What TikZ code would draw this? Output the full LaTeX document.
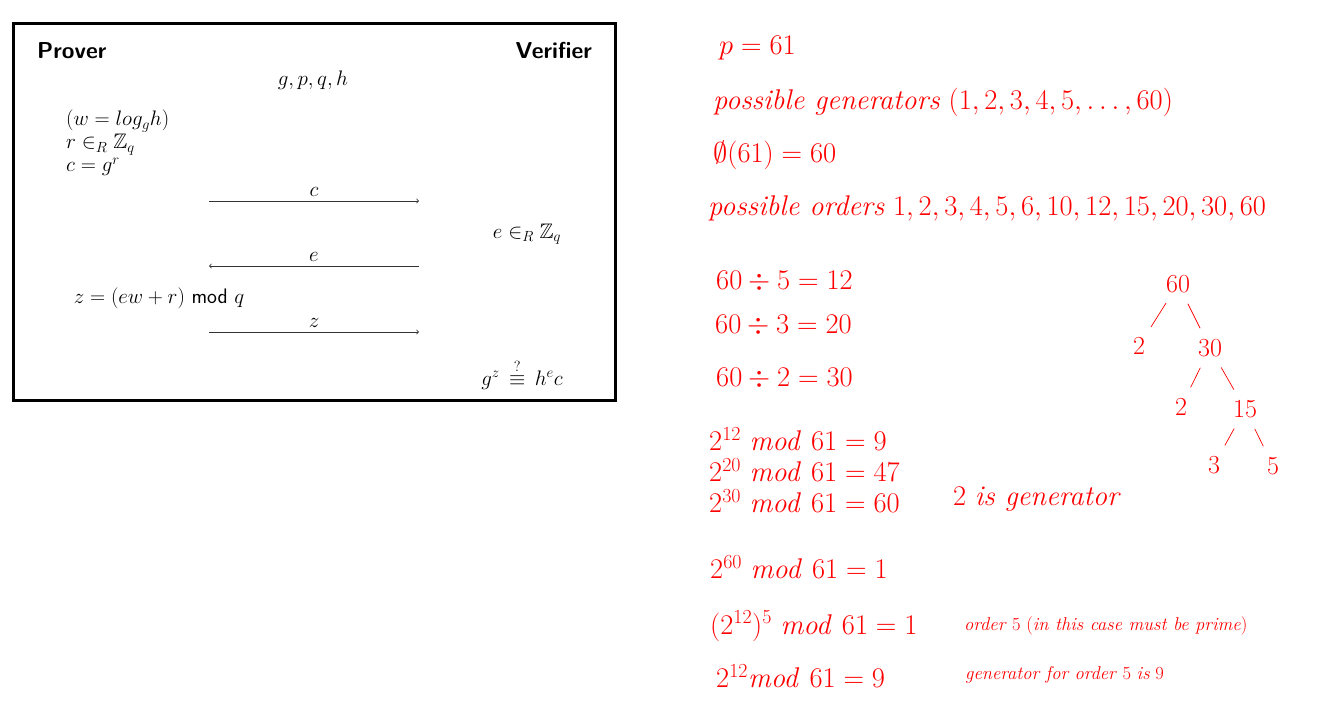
\RequirePackage{fix-cm}
\documentclass[tikz,border=0pt]{standalone}
\usepackage{amsmath,amssymb}
\usepackage{xcolor}
\usetikzlibrary{positioning}

\tikzset{
  frame/.style={draw, line width=3pt},
  party/.style={font=\fontsize{23}{26}\selectfont\sffamily\bfseries, inner sep=0pt},
  msg/.style={font=\fontsize{21}{23}\selectfont\sffamily, inner sep=0pt},
  msgarrow/.style={->, draw=black!80, line width=0.8pt},
  calc/.style={text=red, anchor=west, inner sep=0pt, font=\fontsize{28.5}{32}\selectfont},
  remark/.style={text=red, anchor=west, inner sep=0pt, font=\fontsize{18.5}{22}\selectfont},
  factor/.style={text=red, inner sep=0pt, font=\fontsize{26}{30}\selectfont},
  branch/.style={draw=red, line width=0.7pt, shorten <=12pt, shorten >=12pt}
}

\begin{document}
\begin{tikzpicture}[x=1pt, y=-1pt]
  \useasboundingbox (0,0) rectangle (1322,701);
  \draw[frame] (13,24) rectangle (615,400);

  \node[party, anchor=west] (prover) at (37,51) {Prover};
  \node[party, anchor=east] (verifier) at (592,51) {Verifier};
  \node[msg] (params) at (313,80) {$g, p, q, h$};
  \node[msg, anchor=north west, align=left] (secret) at (66,110)
    {$(w = log_g h)$\\ $r \in_R \mathbb{Z}_q$\\ $c = g^r$};

  \coordinate (c1) at (209,201);
  \coordinate (c2) at (419,201);
  \draw[msgarrow] (c1) -- node[msg, above=4pt] {$c$} (c2);

  \node[msg] (chal) at (527,234) {$e \in_R \mathbb{Z}_q$};

  \coordinate (e1) at (419,266);
  \coordinate (e2) at (209,266);
  \draw[msgarrow] (e1) -- node[msg, above=4pt] {$e$} (e2);

  \node[msg] (resp) at (159,298) {$z = (ew + r)$ mod $q$};

  \coordinate (z1) at (209,332);
  \coordinate (z2) at (419,332);
  \draw[msgarrow] (z1) -- node[msg, above=4pt] {$z$} (z2);

  \node[msg] (check) at (522,374) {$g^z\, \overset{?}{\equiv}\, h^e c$};

  \node[calc] (prime) at (719,48) {$p = 61$};
  \node[calc] (gens) at (713,102) {\textit{possible generators} $(1, 2, 3, 4, 5, \dots, 60)$};
  \node[calc] (phi) at (713,155) {$\emptyset(61) = 60$};
  \node[calc] (orders) at (708,208) {\textit{possible orders} $1, 2, 3, 4, 5, 6, 10, 12, 15, 20, 30, 60$};

  \node[calc] (div5) at (716,281) {$60 \div 5 = 12$};
  \node[calc] (div3) at (715,325) {$60 \div 3 = 20$};
  \node[calc] (div2) at (716,378) {$60 \div 2 = 30$};

  \node[calc] (pow12) at (709,439) {$2^{12}\ \mathit{mod}\ 61 = 9$};
  \node[calc] (pow20) at (709,470) {$2^{20}\ \mathit{mod}\ 61 = 47$};
  \node[calc] (pow30) at (709,501) {$2^{30}\ \mathit{mod}\ 61 = 60$};
  \node[calc] (isgen) at (953,499) {$2$ \textit{is generator}};

  \node[calc] (pow60) at (710,567) {$2^{60}\ \mathit{mod}\ 61 = 1$};
  \node[calc] (ord5) at (710,626) {$(2^{12})^5\ \mathit{mod}\ 61 = 1$};
  \node[remark] (ord5note) at (964,626) {\textit{order} 5 (\textit{in this case must be prime})};
  \node[calc] (gen9) at (716,676) {$2^{12}\mathit{mod}\ 61 = 9$};
  \node[remark] (gen9note) at (965,675) {\textit{generator for order} 5 \textit{is} 9};

  \node[factor] (f60) at (1178,284) {60};
  \node[factor] (f2a) at (1139,346) {2};
  \node[factor] (f30) at (1210,348) {30};
  \node[factor] (f2b) at (1181,407) {2};
  \node[factor] (f15) at (1245,409) {15};
  \node[factor] (f3) at (1214,465) {3};
  \node[factor] (f5) at (1273,466) {5};
  \draw[branch] (f60) -- (f2a);
  \draw[branch] (f60) -- (f30);
  \draw[branch] (f30) -- (f2b);
  \draw[branch] (f30) -- (f15);
  \draw[branch] (f15) -- (f3);
  \draw[branch] (f15) -- (f5);
\end{tikzpicture}
\end{document}
